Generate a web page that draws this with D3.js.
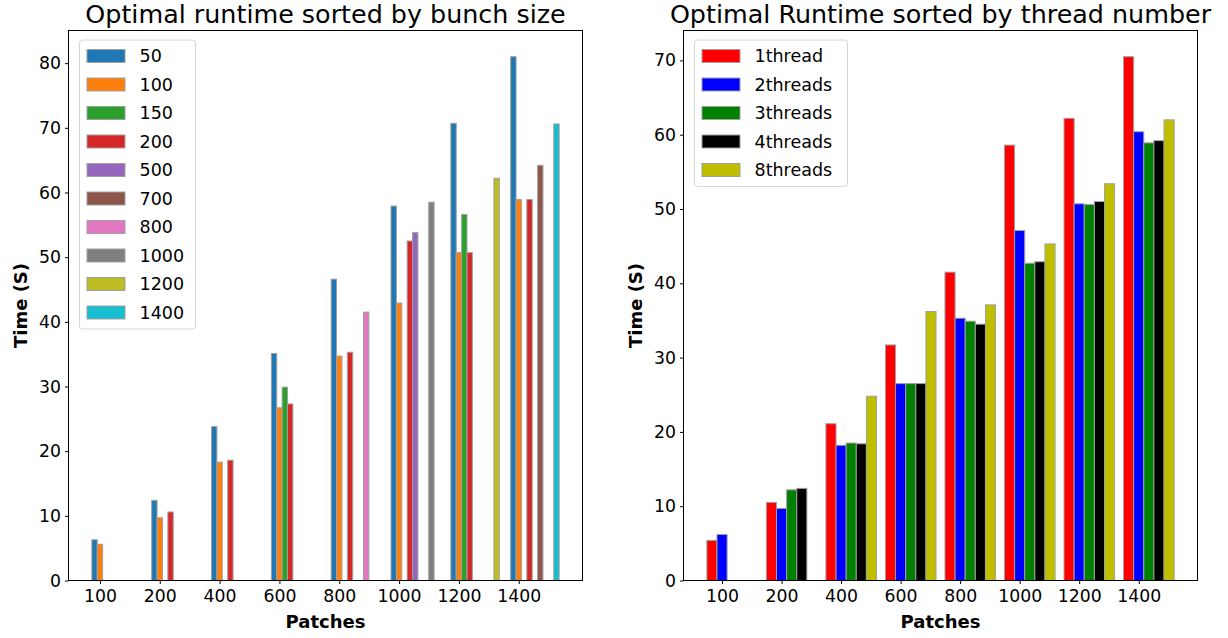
<!DOCTYPE html>
<html>
<head>
<meta charset="utf-8">
<script src="https://cdn.jsdelivr.net/npm/d3@7"></script>
<style>
  body { margin: 0; background: #fff; }
  svg { display: block; }
  text { font-family: "DejaVu Sans", sans-serif; fill: #000; }
</style>
</head>
<body>
<svg id="chart" width="1228" height="638"></svg>
<script>
// ---- shared categories ----
const patches = ["100", "200", "400", "600", "800", "1000", "1200", "1400"];
const yTicksLeft = [0, 10, 20, 30, 40, 50, 60, 70, 80];
const yTicksRight = [0, 10, 20, 30, 40, 50, 60, 70];

// ---- left chart: runtime per bunch size (null = not measured) ----
const bunchLabels = ["50", "100", "150", "200", "500", "700", "800", "1000", "1200", "1400"];
const bunchColors = ["#1f77b4", "#ff7f0e", "#2ca02c", "#d62728", "#9467bd",
                     "#8c564b", "#e377c2", "#7f7f7f", "#bcbd22", "#17becf"];
const bunchSlot = [0, 1, 2, 3, 4, 5, 6, 7, 8, 8];
const bunch50   = [6.3, 12.4, 23.8, 35.1, 46.6, 57.9, 70.7, 81.0];
const bunch100  = [5.6, 9.7, 18.3, 26.7, 34.7, 42.9, 50.7, 58.9];
const bunch150  = [null, null, null, 29.9, null, null, 56.6, null];
const bunch200  = [null, 10.6, 18.6, 27.3, 35.3, 52.5, 50.7, 58.9];
const bunch500  = [null, null, null, null, null, 53.8, null, null];
const bunch700  = [null, null, null, null, null, null, null, 64.2];
const bunch800  = [null, null, null, null, 41.5, null, null, null];
const bunch1000 = [null, null, null, null, null, 58.5, null, null];
const bunch1200 = [null, null, null, null, null, null, 62.2, null];
const bunch1400 = [null, null, null, null, null, null, null, 70.6];
const bunchValues = [bunch50, bunch100, bunch150, bunch200, bunch500,
                     bunch700, bunch800, bunch1000, bunch1200, bunch1400];

// ---- right chart: runtime per thread count ----
const threadLabels = ["1thread", "2threads", "3threads", "4threads", "8threads"];
const threadColors = ["#ff0000", "#0000ff", "#008000", "#000000", "#bfbf00"];
const threadSlot = [0, 1, 2, 3, 4];
const thread1 = [5.4, 10.5, 21.1, 31.7, 41.5, 58.6, 62.2, 70.5];
const thread2 = [6.2, 9.7, 18.2, 26.5, 35.3, 47.1, 50.7, 60.4];
const thread3 = [null, 12.2, 18.5, 26.5, 34.9, 42.7, 50.6, 58.9];
const thread4 = [null, 12.4, 18.4, 26.5, 34.5, 42.9, 51.0, 59.2];
const thread8 = [null, null, 24.8, 36.2, 37.1, 45.3, 53.4, 62.0];
const threadValues = [thread1, thread2, thread3, thread4, thread8];

const svg = d3.select("#chart");
const edgeColor = "#a0a0a0";

function drawPanel(cfg) {
  const { left, right, top, bottom, barWidth, values, slots, colors, labels,
          yTicks, title, legend } = cfg;

  // bars: group i, series j centred at i + (slot - 1) * barWidth
  const bars = [];
  values.forEach((series, j) => {
    series.forEach((v, i) => {
      if (v == null) return;
      bars.push({ i, j, v, c: i + (slots[j] - 1) * barWidth });
    });
  });

  const lo = d3.min(bars, d => d.c - barWidth / 2);
  const hi = d3.max(bars, d => d.c + barWidth / 2);
  const pad = (hi - lo) * 0.05;
  const x = d3.scaleLinear().domain([lo - pad, hi + pad]).range([left, right]);
  const yMax = d3.max(bars, d => d.v) * 1.05;
  const y = d3.scaleLinear().domain([0, yMax]).range([bottom, top]);

  const g = svg.append("g");

  g.append("g").selectAll("rect").data(bars).join("rect")
    .attr("x", d => x(d.c - barWidth / 2))
    .attr("width", d => x(d.c + barWidth / 2) - x(d.c - barWidth / 2))
    .attr("y", d => y(d.v))
    .attr("height", d => y(0) - y(d.v))
    .attr("fill", d => colors[d.j])
    .attr("stroke", edgeColor)
    .attr("stroke-width", 1);

  // axes
  const xAxis = d3.axisBottom(x)
    .tickValues(patches.map((p, i) => i))
    .tickFormat(i => patches[i])
    .tickSize(3.5).tickPadding(6);
  const gx = g.append("g").attr("transform", `translate(0,${bottom})`).call(xAxis);
  const yAxis = d3.axisLeft(y).tickValues(yTicks).tickFormat(d3.format("d"))
    .tickSize(3.5).tickPadding(4);
  const gy = g.append("g").attr("transform", `translate(${left},0)`).call(yAxis);
  [gx, gy].forEach(a => {
    a.select(".domain").remove();
    a.selectAll("line").attr("stroke", "#000").attr("stroke-width", 1);
    a.selectAll("text").style("font-size", "17.3px").attr("fill", "#000");
  });

  // frame
  g.append("rect")
    .attr("x", left).attr("y", top)
    .attr("width", right - left).attr("height", bottom - top)
    .attr("fill", "none").attr("stroke", "#000").attr("stroke-width", 1);

  // titles
  g.append("text")
    .attr("x", (left + right) / 2).attr("y", top - 7.5)
    .attr("text-anchor", "middle").style("font-size", "25.4px")
    .text(title);
  g.append("text")
    .attr("x", (left + right) / 2).attr("y", 628)
    .attr("text-anchor", "middle").style("font-size", "18px").style("font-weight", "bold")
    .text("Patches");
  g.append("text")
    .attr("transform", `translate(${left - 42},${(top + bottom) / 2}) rotate(-90)`)
    .attr("text-anchor", "middle").style("font-size", "18px").style("font-weight", "bold")
    .text("Time (S)");

  // legend
  const lg = g.append("g");
  const rowH = 28.5;
  lg.append("rect")
    .attr("x", legend.x).attr("y", legend.y)
    .attr("width", legend.w).attr("height", labels.length * rowH + 4)
    .attr("rx", 3).attr("fill", "#fff").attr("fill-opacity", 0.8)
    .attr("stroke", "#d6d6d6").attr("stroke-width", 1);
  labels.forEach((lab, k) => {
    const cy = legend.y + 16 + k * rowH;
    lg.append("rect")
      .attr("x", legend.x + 7.5).attr("y", cy - 6.5)
      .attr("width", 38).attr("height", 13)
      .attr("fill", colors[k]).attr("stroke", edgeColor).attr("stroke-width", 1);
    lg.append("text")
      .attr("x", legend.x + 60).attr("y", cy).attr("dy", "0.36em")
      .style("font-size", "17.5px").text(lab);
  });
}

drawPanel({
  left: 68.5, right: 582.5, top: 30.5, bottom: 580.5, barWidth: 0.09,
  values: bunchValues, slots: bunchSlot, colors: bunchColors, labels: bunchLabels,
  yTicks: yTicksLeft, title: "Optimal runtime sorted by bunch size",
  legend: { x: 79.5, y: 40, w: 116 }
});

drawPanel({
  left: 683.5, right: 1197.5, top: 30.5, bottom: 580.5, barWidth: 0.17,
  values: threadValues, slots: threadSlot, colors: threadColors, labels: threadLabels,
  yTicks: yTicksRight, title: "Optimal Runtime sorted by thread number",
  legend: { x: 694.5, y: 40, w: 153 }
});
</script>
</body>
</html>
